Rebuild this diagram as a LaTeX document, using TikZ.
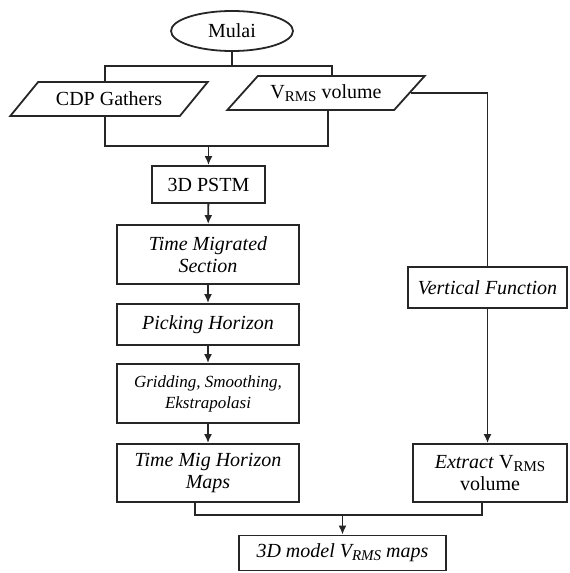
\documentclass[tikz,border=0pt]{standalone}
\usepackage{fontspec}
\setmainfont{Liberation Serif}
\usetikzlibrary{shapes.geometric,arrows.meta}

\newcommand{\rms}{\raisebox{-0.3ex}{\fontsize{7.5}{7.5}\selectfont RMS}}

\begin{document}
\begin{tikzpicture}[x=0.5pt,y=-0.5pt,
  font=\fontsize{10}{11}\selectfont,
  line/.style={draw=black!85,line width=0.9pt},
  arr/.style={line,-{Latex[length=4.5pt,width=4pt]}},
  box/.style={line,rectangle,align=center,inner sep=1pt},
  io/.style={line,trapezium,trapezium left angle=34,trapezium right angle=146,
    trapezium stretches=true,minimum width=99pt,minimum height=17pt,inner sep=0pt}]
\useasboundingbox (0,0) rectangle (569,573);

\node[line,ellipse,minimum width=61pt,minimum height=20pt,inner sep=0pt] (mulai) at (232,31) {Mulai};
\node[io] (cdp) at (109,99) {CDP Gathers};
\node[io] (vrms) at (326,93) {V\rms{} volume};

\node[box,minimum width=56.5pt,minimum height=18.5pt] (pstm) at (208.5,184.5) {3D PSTM};
\node[box,minimum width=91pt,minimum height=29.5pt] (tms) at (208,254.5) {\itshape Time Migrated\\\itshape Section};
\node[box,minimum width=91pt,minimum height=20.5pt] (pick) at (208,324.5) {\itshape Picking Horizon};
\node[box,minimum width=91pt,minimum height=29.5pt,font=\fontsize{8.5}{10.5}\selectfont] (grid) at (208,393.5) {\itshape Gridding, Smoothing,\\\itshape Ekstrapolasi};
\node[box,minimum width=91pt,minimum height=29pt] (tmh) at (208,473) {\itshape Time Mig Horizon\\\itshape Maps};

\node[box,minimum width=79.5pt,minimum height=20.5pt] (vfunc) at (487.5,287.5) {\itshape Vertical Function};
\node[box,minimum width=77pt,minimum height=29pt] (extract) at (490,473) {\textit{Extract} V\rms\\volume};
\node[box,minimum width=103.5pt,minimum height=17.5pt] (model) at (342.5,553) {\itshape 3D model V\rms{} maps};

% split from Mulai
\coordinate (inL) at (105,66);
\coordinate (inR) at (332,66);
\draw[line] (mulai.south) -- (mulai.south |- inL);
\draw[line] (inL |- cdp.north) -- (inL) -- (inR) -- (inR |- vrms.north);

% join into 3D PSTM
\coordinate (outL) at (105,146);
\coordinate (outR) at (328,146);
\draw[line] (outL |- cdp.south) -- (outL) -- (outR) -- (outR |- vrms.south);
\draw[arr] (pstm.north |- outL) -- (pstm.north);

% left column
\draw[arr] (pstm) -- (tms);
\draw[arr] (tms) -- (pick);
\draw[arr] (pick) -- (grid);
\draw[arr] (grid) -- (tmh);

% right branch
\draw[line] (vrms.east) -- (vrms.east -| vfunc.north) -- (vfunc.north);
\draw[arr] (vfunc.south) -- (vfunc.south |- extract.north);

% join into model
\coordinate (joinL) at (195,515);
\coordinate (joinR) at (482,515);
\draw[line] (joinL |- tmh.south) -- (joinL) -- (joinR) -- (joinR |- extract.south);
\draw[arr] (model.north |- joinL) -- (model.north);
\end{tikzpicture}
\end{document}
